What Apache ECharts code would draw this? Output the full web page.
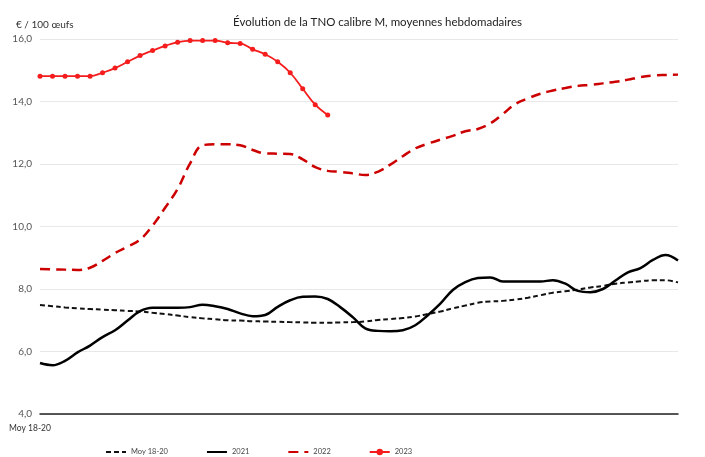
<!DOCTYPE html>
<html>
<head>
<meta charset="utf-8">
<script src="https://cdn.jsdelivr.net/npm/echarts@6/dist/echarts.min.js"></script>
<style>
    html, body { margin: 0; padding: 0; background: #fff; }
    #chart { width: 705px; height: 457px; }
</style>
</head>
<body>
<div id="chart"></div>
<script>
// semaines 1 a 52, seule la premiere porte une etiquette
var weeks = [];
for (var w = 1; w <= 52; w++) { weeks.push('S' + w); }
var firstLabel = 'Moy 18-20';

var moy1820 = [7.49, 7.45, 7.41, 7.38, 7.36, 7.34, 7.32, 7.30, 7.28, 7.24, 7.20, 7.15, 7.10, 7.06, 7.03, 7.00, 6.99, 6.97, 6.96, 6.95,
    6.94, 6.93, 6.92, 6.92, 6.93, 6.94, 6.96, 7.01, 7.04, 7.07, 7.12, 7.20, 7.28, 7.38, 7.47, 7.56, 7.60, 7.62, 7.66, 7.72,
    7.80, 7.88, 7.93, 7.98, 8.05, 8.10, 8.17, 8.21, 8.25, 8.28, 8.28, 8.21];
var y2021 = [5.63, 5.56, 5.70, 5.97, 6.19, 6.46, 6.68, 6.99, 7.29, 7.40, 7.40, 7.40, 7.42, 7.50, 7.45, 7.36, 7.22, 7.13, 7.17, 7.43,
    7.64, 7.75, 7.76, 7.68, 7.42, 7.10, 6.74, 6.66, 6.65, 6.68, 6.84, 7.16, 7.53, 7.97, 8.22, 8.35, 8.37, 8.24, 8.24, 8.24,
    8.24, 8.28, 8.17, 7.94, 7.90, 8.00, 8.27, 8.53, 8.67, 8.93, 9.09, 8.91];
var y2022 = [8.64, 8.63, 8.62, 8.61, 8.68, 8.90, 9.15, 9.35, 9.58, 10.03, 10.60, 11.20, 12.02, 12.60, 12.63, 12.63, 12.60, 12.45, 12.34, 12.33,
    12.32, 12.15, 11.90, 11.78, 11.75, 11.70, 11.65, 11.75, 11.98, 12.25, 12.50, 12.65, 12.78, 12.90, 13.05, 13.12, 13.30, 13.60, 13.92, 14.10,
    14.25, 14.35, 14.43, 14.50, 14.53, 14.58, 14.63, 14.70, 14.78, 14.83, 14.85, 14.86];
var y2023 = [14.81, 14.81, 14.81, 14.81, 14.81, 14.92, 15.07, 15.27, 15.47, 15.63, 15.78, 15.90, 15.95, 15.95, 15.95, 15.88, 15.86, 15.67, 15.51, 15.27,
    14.92, 14.41, 13.90, 13.57];

var font = 'Lato';
var myChart = echarts.init(document.getElementById('chart'));
var option = {
    backgroundColor: '#fff',
    animation: false,
    textStyle: { fontFamily: font },
    title: [{
        text: 'Évolution de la TNO calibre M, moyennes hebdomadaires',
        left: 228,
        top: 11,
        textStyle: { fontSize: 11.5, fontWeight: 'normal', color: '#222', fontFamily: font }
    }, {
        text: '€ / 100 œufs',
        left: 11,
        top: 15,
        textStyle: { fontSize: 10, fontWeight: 'normal', color: '#333', fontFamily: font }
    }],
    legend: {
        left: 100,
        top: 443,
        itemWidth: 20,
        itemHeight: 8,
        itemGap: 38,
        textStyle: { fontSize: 7.5, color: '#444', fontFamily: font },
        data: [
            { name: 'Moy 18-20', itemStyle: { opacity: 0 } },
            { name: '2021', itemStyle: { opacity: 0 } },
            { name: '2022', itemStyle: { opacity: 0 } },
            { name: '2023' }
        ]
    },
    grid: { left: 40, right: 27, top: 39, bottom: 43 },
    xAxis: {
        type: 'category',
        boundaryGap: false,
        data: weeks,
        axisLine: { lineStyle: { color: '#222', width: 1.5 } },
        axisTick: { show: false },
        axisLabel: {
            interval: 0,
            fontSize: 8.5,
            color: '#333',
            margin: 10,
            padding: [0, 20, 0, 0],
            formatter: function (v, i) { return i === 0 ? firstLabel : ''; }
        }
    },
    yAxis: {
        type: 'value',
        min: 4,
        max: 16,
        interval: 2,
        axisLine: { show: false },
        axisTick: { show: false },
        splitLine: { lineStyle: { color: '#e8e8e8', width: 1 } },
        axisLabel: {
            fontSize: 10,
            color: '#555',
            margin: 8,
            formatter: function (v) { return v.toFixed(1).replace('.', ','); }
        }
    },
    series: [{
        name: 'Moy 18-20',
        type: 'line',
        data: moy1820,
        smooth: 0.4,
        showSymbol: false,
        symbol: 'none',
        color: '#111',
        lineStyle: { color: '#111', width: 2, type: [5, 3] }
    }, {
        name: '2021',
        type: 'line',
        data: y2021,
        smooth: 0.4,
        showSymbol: false,
        symbol: 'none',
        color: '#000',
        lineStyle: { color: '#000', width: 2.5 }
    }, {
        name: '2022',
        type: 'line',
        data: y2022,
        smooth: 0.4,
        showSymbol: false,
        symbol: 'none',
        color: '#cc0000',
        lineStyle: { color: '#cc0000', width: 2.5, type: [10, 6] }
    }, {
        name: '2023',
        type: 'line',
        data: y2023,
        smooth: 0.4,
        symbol: 'circle',
        symbolSize: 5,
        color: '#f41c1c',
        itemStyle: { color: '#f41c1c' },
        lineStyle: { color: '#f41c1c', width: 1.8 }
    }]
};
if (option && typeof option === "object") {
    myChart.setOption(option, true);
}
</script>
</body>
</html>
